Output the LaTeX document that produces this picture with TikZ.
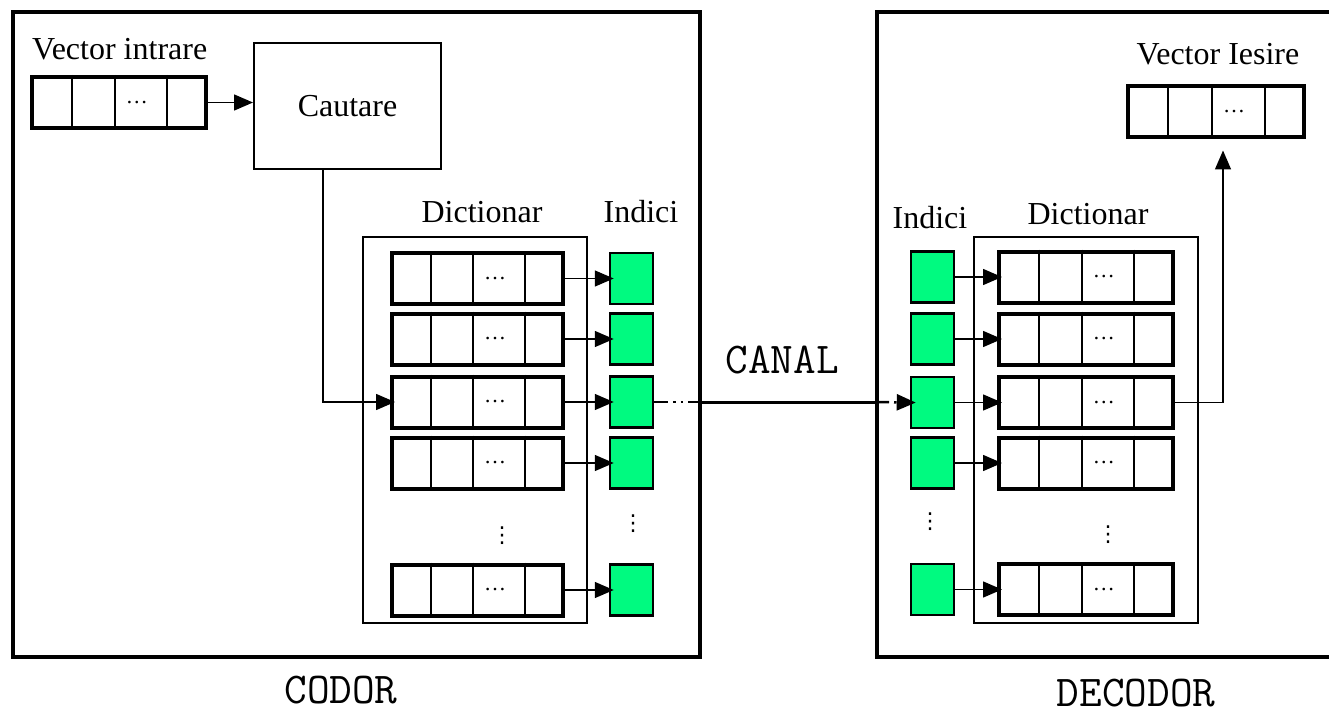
\documentclass[tikz,border=0pt]{standalone}
\usepackage{fontspec}
\setmainfont{Liberation Serif}
\newfontfamily\dotsfont{DejaVu Sans}
\usetikzlibrary{arrows.meta,calc}
\definecolor{idxgreen}{RGB}{0,250,128}

\tikzset{
  lbl/.style={font=\fontsize{32}{38}\selectfont, inner sep=0pt, anchor=base},
  mlbl/.style={font=\ttfamily\fontsize{44}{48}\selectfont, inner sep=0pt, anchor=base},
  block/.style={draw, line width=4pt, minimum width=#1, minimum height=51pt, inner sep=0pt, fill=white},
  idx/.style={draw, line width=2.5pt, fill=idxgreen, minimum width=43pt, minimum height=51pt, inner sep=0pt},
  dictframe/.style={draw, line width=2pt, inner sep=0pt},
  encbox/.style={draw, line width=4pt, inner sep=0pt},
  arr/.style={line width=1.5pt, -{Triangle[length=19pt,width=16pt]}},
  celldots/.style={font=\fontsize{22}{22}\selectfont, inner sep=0pt},
  coldots/.style={font=\dotsfont\fontsize{22}{22}\selectfont, inner sep=0pt},
  chan/.style={line width=2.5pt, dash pattern=on 14pt off 5pt on 2.5pt off 5pt on 2.5pt off 5pt},
}

% cell dividers and the ellipsis of a vector block
\newcommand\cellsplit[1]{%
  \foreach \f in {0.235,0.475,0.77}{%
    \draw[line width=2pt] ($(#1.north west)!\f!(#1.north east)$) -- ($(#1.south west)!\f!(#1.south east)$);}%
  \node[celldots] at ($(#1.west)!0.6!(#1.east)$) {…};}

\begin{document}
\begin{tikzpicture}[x=1pt,y=-1pt]
\useasboundingbox (0,0) rectangle (1329,714);
\clip (0,0) rectangle (1329,714);
\fill[white] (0,0) rectangle (1329,714);

% ---------- enclosures ----------
\node[encbox, minimum width=687pt, minimum height=645pt] (codor) at (356.5,334.5) {};
\node[encbox, minimum width=480pt, minimum height=645pt] (decodor) at (1117,334.5) {};
\node[mlbl] (codorlbl) at (341,703) {CODOR};
\node[mlbl] (decodorlbl) at (1136,706) {DECODOR};

% ---------- encoder ----------
\node[lbl, anchor=base west] (vinlbl) at (32,60) {Vector intrare};
\node[block=174pt] (iv) at (119,102.5) {};
\cellsplit{iv}
\node[dictframe, minimum width=187pt, minimum height=126pt, font=\fontsize{32}{38}\selectfont] (caut) at (347.5,106) {Cautare};
\draw[arr] (iv.east) -- (iv.east -| caut.west);

\node[dictframe, minimum width=224pt, minimum height=386pt] (cdict) at (475,430) {};
\node[lbl] (cdictlbl) at (482,222) {Dictionar};
\node[lbl] (cidxlbl) at (641,222) {Indici};

\foreach \i/\y in {1/278.5,2/339,3/402,4/463,5/590}{
  \node[block=171pt] (cr\i) at (477.5,\y) {};
  \cellsplit{cr\i}
  \node[idx] (ci\i) at (631.5,\y) {};
  \draw[arr, shorten >=-5pt] (cr\i.east) -- (ci\i.west);
}
\node[coldots] (cdictdots) at (502,536) {⋮};
\node[coldots] (cidxdots) at (633,524) {⋮};

\draw[arr, shorten >=-5pt] ([xshift=70pt]caut.south west) |- (cr3.west);

% ---------- channel ----------
\coordinate (cx) at (ci3.east -| codor.east);
\coordinate (dx) at (ci3.east -| decodor.west);
\draw[chan] (ci3.east) -- (cx);
\draw[line width=3pt] (cx) -- (dx);
\node[mlbl] (canal) at (782,373) {CANAL};

% ---------- decoder ----------
\node[dictframe, minimum width=224pt, minimum height=386pt] (ddict) at (1086,430) {};
\node[lbl] (didxlbl) at (930,228) {Indici};
\node[lbl] (ddictlbl) at (1088,224) {Dictionar};

\foreach \i/\y in {1/277,2/339,3/402.5,4/463,5/589.5}{
  \node[idx] (di\i) at (932.5,\y) {};
  \node[block=174pt] (dr\i) at (1086,\y) {};
  \cellsplit{dr\i}
  \draw[arr, shorten >=-5pt] (di\i.east) -- (dr\i.west);
}
\node[coldots] (didxdots) at (930,522) {⋮};
\node[coldots] (ddictdots) at (1108,535) {⋮};

\draw[chan, -{Triangle[length=19pt,width=16pt]}, shorten >=-6pt] (dx) -- (di3.west);

\node[lbl] (voutlbl) at (1218,65) {Vector Iesire};
\node[block=176pt] (ov) at (1216,112) {};
\cellsplit{ov}
\draw[arr, shorten >=11pt] (dr3.east) -| ([xshift=7pt]ov.south);

\end{tikzpicture}
\end{document}
